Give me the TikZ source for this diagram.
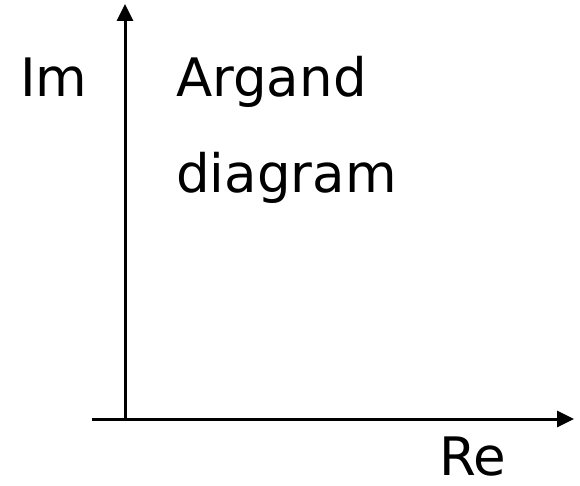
\documentclass[tikz,border=0pt]{standalone}
\usepackage{fontspec}
\setmainfont{DejaVu Sans}
\usetikzlibrary{arrows.meta}
\begin{document}
\begin{tikzpicture}[x=1pt,y=-1pt,
  axis/.style={line width=3pt,-{Triangle[width=16pt,length=17pt]}},
  lbl/.style={anchor=base west,inner sep=0pt,font=\fontsize{53}{53}\selectfont}]
\useasboundingbox (0,0) rectangle (580,486);
\coordinate (o) at (125,419);
\coordinate (ytop) at (125,4);
\coordinate (xleft) at (92,419);
\coordinate (xright) at (574,419);
\draw[axis] (o) -- (ytop);
\draw[axis] (xleft) -- (xright);
\node[lbl] (im) at (20,97) {Im};
\node[lbl] (argand) at (176,97) {Argand};
\node[lbl] (diagram) at (176,193) {diagram};
\node[lbl,text depth=0pt] (re) at (439,475) {Re};
\end{tikzpicture}
\end{document}
